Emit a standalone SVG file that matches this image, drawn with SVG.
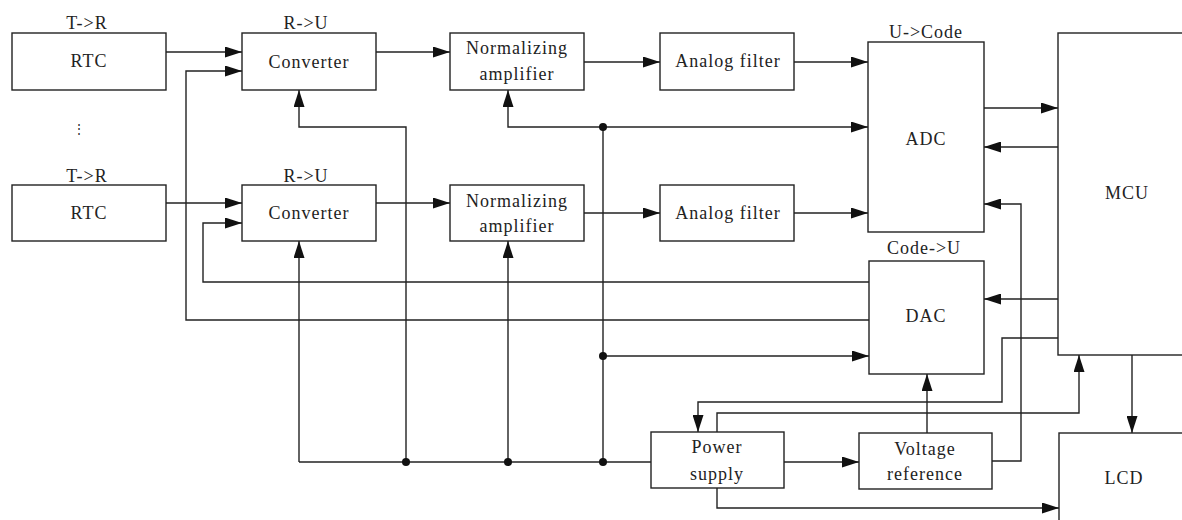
<svg xmlns="http://www.w3.org/2000/svg" width="1182" height="520" viewBox="0 0 1182 520">
<style>
.box{fill:#fff;stroke:#222;stroke-width:1.4}
.t{font-family:"Liberation Serif","Times New Roman",serif;font-size:18px;letter-spacing:1px;fill:#222;text-anchor:middle}
.c{fill:none;stroke:#222;stroke-width:1.4}
.a{marker-end:url(#arr)}
.dot{fill:#111}
</style>
<defs>
<marker id="arr" viewBox="0 0 17 11" refX="17" refY="5.5" markerWidth="17" markerHeight="11" markerUnits="userSpaceOnUse" orient="auto">
<path d="M0,0 L17,5.5 L0,11 z" fill="#111"/>
</marker>
</defs>
<rect width="1182" height="520" fill="#fff"/>
<g id="connectors">
<path class="c a" d="M166,52 H242"/>
<path class="c a" d="M869,320 H186 V71 H242"/>
<path class="c a" d="M869,282 H203 V223 H242"/>
<path class="c a" d="M166,203 H242"/>
<path class="c a" d="M376,52 H450"/>
<path class="c a" d="M584,62 H660"/>
<path class="c a" d="M794,62 H868"/>
<path class="c a" d="M376,203 H450"/>
<path class="c a" d="M584,213 H660"/>
<path class="c a" d="M794,213 H868"/>
<path class="c" d="M299,462 H651"/>
<path class="c a" d="M299,462 V241"/>
<path class="c a" d="M406,462 V127 H299 V90"/>
<path class="c a" d="M508,462 V241"/>
<path class="c a" d="M603,462 V127 H508 V90"/>
<path class="c a" d="M603,127 H868"/>
<path class="c a" d="M603,356 H869"/>
<path class="c a" d="M984,108 H1058"/>
<path class="c a" d="M1058,147 H984"/>
<path class="c a" d="M992,461 H1021 V204 H984"/>
<path class="c a" d="M1058,299 H984"/>
<path class="c a" d="M1058,338 H1002 V402 H698 V432"/>
<path class="c a" d="M717,432 V413 H1079 V355"/>
<path class="c a" d="M927,433 V374"/>
<path class="c a" d="M784,462 H859"/>
<path class="c a" d="M717,488 V508 H1059"/>
<path class="c a" d="M1132,355 V433"/>
<circle class="dot" cx="406" cy="462" r="4"/>
<circle class="dot" cx="508" cy="462" r="4"/>
<circle class="dot" cx="603" cy="462" r="4"/>
<circle class="dot" cx="603" cy="356" r="4"/>
<circle class="dot" cx="603" cy="127" r="4"/>
</g>
<g id="rtc1"><rect class="box" x="12" y="33" width="154" height="57"/><text class="t" x="87" y="29">T-&gt;R</text><text class="t" x="89" y="67">RTC</text></g>
<text class="t" x="79" y="133" style="font-size:12px;letter-spacing:0">⋮</text>
<g id="rtc2"><rect class="box" x="12" y="185" width="154" height="56"/><text class="t" x="87" y="182">T-&gt;R</text><text class="t" x="89" y="219">RTC</text></g>
<g id="conv1"><rect class="box" x="242" y="33" width="134" height="57"/><text class="t" x="306" y="29">R-&gt;U</text><text class="t" x="309" y="68">Converter</text></g>
<g id="conv2"><rect class="box" x="242" y="185" width="134" height="56"/><text class="t" x="306" y="182">R-&gt;U</text><text class="t" x="309" y="219">Converter</text></g>
<g id="na1"><rect class="box" x="450" y="33" width="134" height="57"/><text class="t" x="517" y="54">Normalizing</text><text class="t" x="517" y="80">amplifier</text></g>
<g id="na2"><rect class="box" x="450" y="185" width="134" height="56"/><text class="t" x="517" y="207">Normalizing</text><text class="t" x="517" y="232">amplifier</text></g>
<g id="af1"><rect class="box" x="660" y="33" width="134" height="57"/><text class="t" x="728" y="67">Analog filter</text></g>
<g id="af2"><rect class="box" x="660" y="185" width="134" height="56"/><text class="t" x="728" y="219">Analog filter</text></g>
<g id="adc"><rect class="box" x="868" y="42" width="116" height="190"/><text class="t" x="926" y="38">U-&gt;Code</text><text class="t" x="926" y="145">ADC</text></g>
<g id="dac"><rect class="box" x="869" y="261" width="115" height="113"/><text class="t" x="924" y="254">Code-&gt;U</text><text class="t" x="926" y="322">DAC</text></g>
<g id="mcu"><rect class="box" x="1058" y="33" width="150" height="322"/><text class="t" x="1127" y="199">MCU</text></g>
<g id="lcd"><rect class="box" x="1059" y="433" width="150" height="100"/><text class="t" x="1124" y="484">LCD</text></g>
<g id="ps"><rect class="box" x="651" y="432" width="133" height="56"/><text class="t" x="717" y="453">Power</text><text class="t" x="717" y="480">supply</text></g>
<g id="vref"><rect class="box" x="859" y="433" width="133" height="56"/><text class="t" x="925" y="455">Voltage</text><text class="t" x="925" y="480">reference</text></g>
</svg>
